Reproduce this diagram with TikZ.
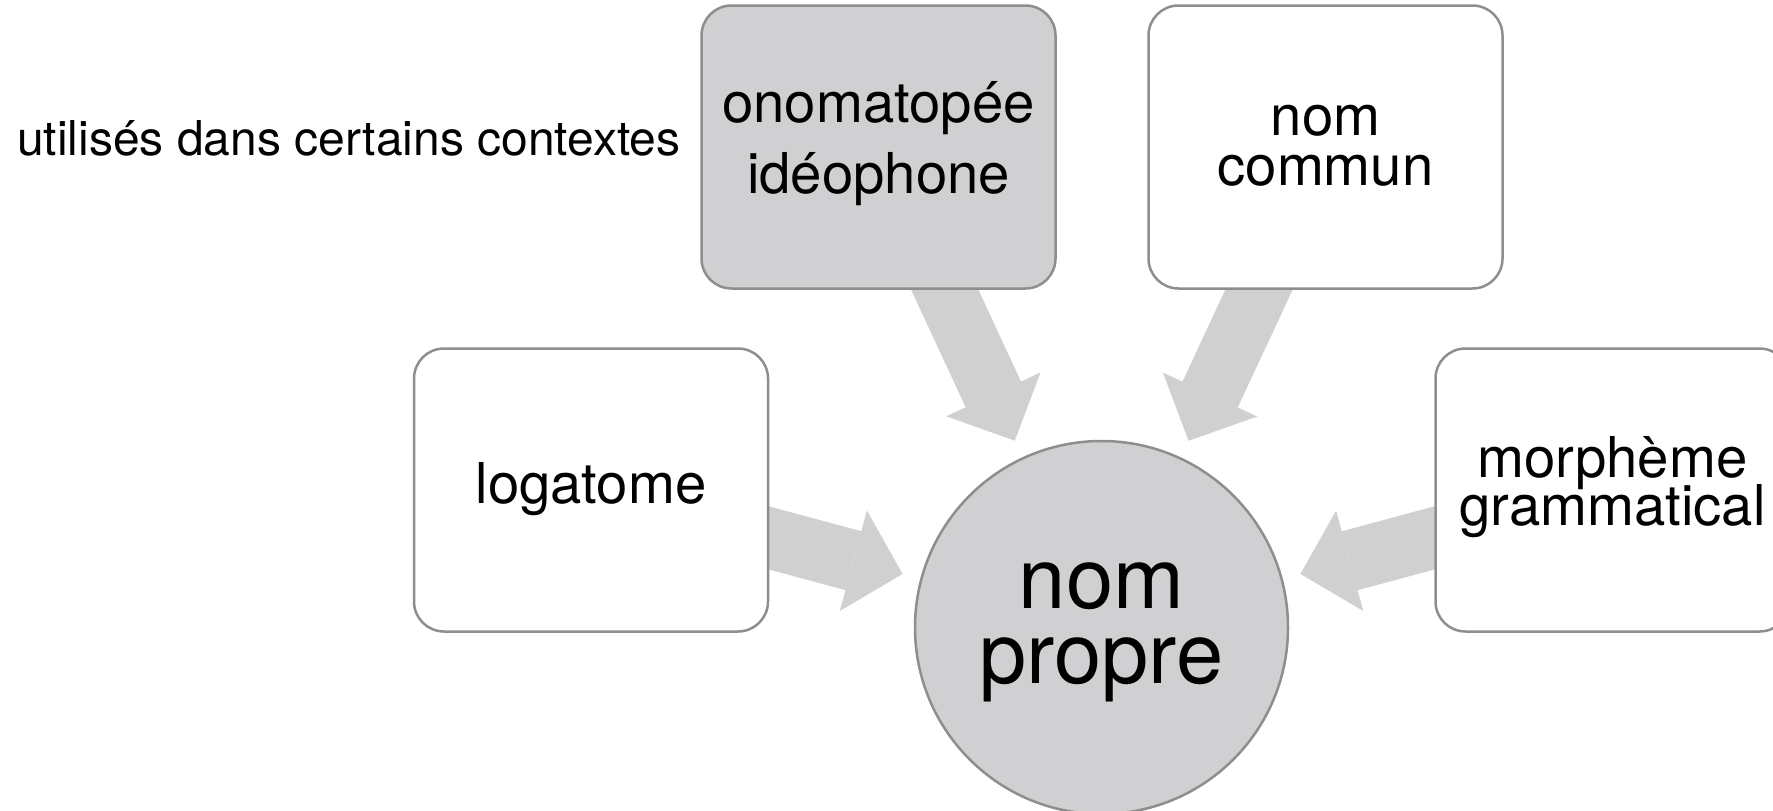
\documentclass[tikz,border=0pt]{standalone}
\usepackage{fontspec}
\setmainfont{TeX Gyre Heros}
\usetikzlibrary{arrows.meta,calc,backgrounds}
\definecolor{boxborder}{HTML}{8E8E8E}
\definecolor{boxfill}{HTML}{D0CFD1}
\definecolor{arrowgray}{HTML}{D0D0D0}
\begin{document}
\setlength{\lineskiplimit}{-1000pt}
\begin{tikzpicture}[x=1pt,y=-1pt,
  sqbox/.style={draw=boxborder, line width=2.5pt, rounded corners=30pt,
    minimum width=354pt, minimum height=283pt, inner sep=0pt, align=center, fill=white},
  greybox/.style={sqbox, fill=boxfill},
  hubcircle/.style={circle, draw=boxborder, line width=2.5pt, fill=boxfill,
    minimum size=373pt, inner sep=0pt, align=center},
  bigarrow/.style={draw=arrowgray, line width=61pt,
    -{Triangle[length=51pt, width=104pt, line width=0pt, fill=arrowgray]}},
]
\useasboundingbox (0,0) rectangle (1773,811);
\clip (0,0) rectangle (1773,811);

\node[greybox, font=\fontsize{56.3pt}{71pt}\selectfont] (onom) at (878.5,147)
  {\rule{0pt}{55pt}onomatopée\\idéophone\rule[-34pt]{0pt}{34pt}};
\node[sqbox, font=\fontsize{56.3pt}{50.7pt}\selectfont] (commun) at (1325.5,147)
  {\rule{0pt}{50pt}nom\\commun\rule[-23.3pt]{0pt}{23.3pt}};
\node[sqbox, font=\fontsize{56.3pt}{66pt}\selectfont] (logatome) at (591,490)
  {\rule[-24pt]{0pt}{74pt}logatome};
\node[sqbox, font=\fontsize{56.3pt}{48pt}\selectfont] (morph) at (1612.5,490)
  {\rule{0pt}{55pt}morphème\\grammatical\rule[-33pt]{0pt}{33pt}};
\node[hubcircle, font=\fontsize{85pt}{75pt}\selectfont] (propre) at (1101.5,627.5)
  {\rule{0pt}{75pt}nom\\propre\rule[-39pt]{0pt}{39pt}};

\node[font=\fontsize{48pt}{58pt}\selectfont, anchor=base west, inner sep=0pt] (ctx) at (17,155)
  {utilisés dans certains contextes};

\begin{scope}[on background layer]
  \foreach \src in {onom,commun,logatome,morph}
    \draw[bigarrow] (\src.center) -- ($(propre.center)!206pt!(\src.center)$);
\end{scope}
\end{tikzpicture}
\end{document}
